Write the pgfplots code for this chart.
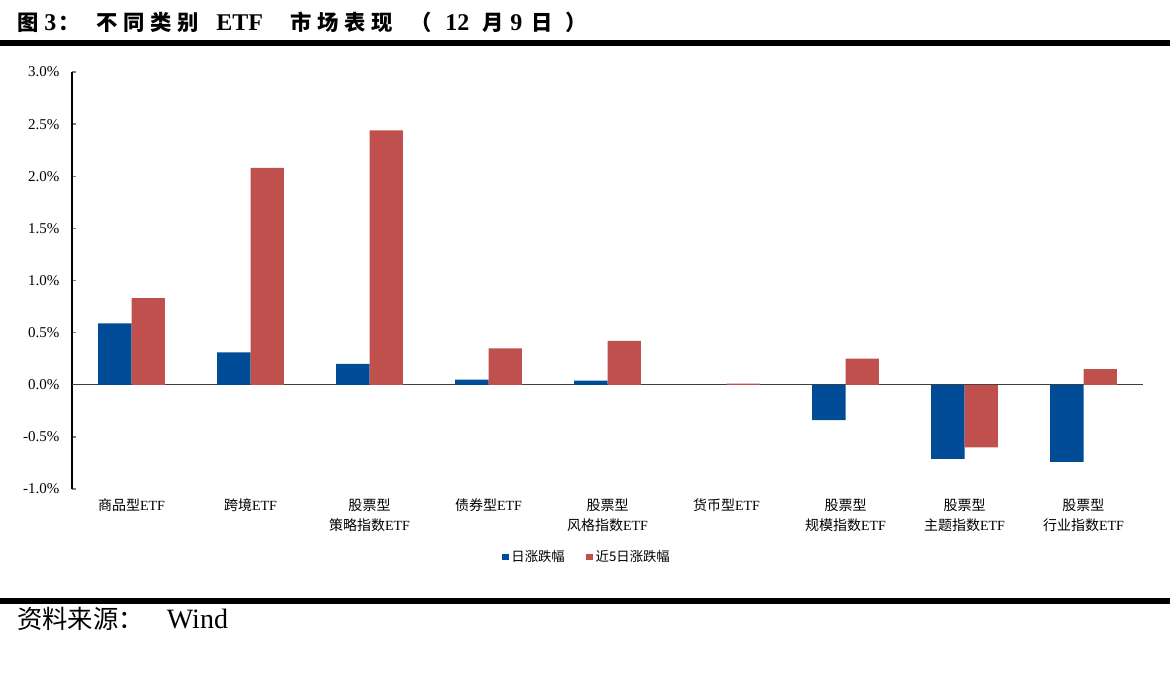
\documentclass[border=0pt]{standalone}
\usepackage{fontspec}
\usepackage{pgfplots}
\pgfplotsset{compat=1.18}
\setmainfont{Liberation Serif}
\newfontfamily\cjk{Noto Sans CJK SC}
\newcommand\zh[1]{{\cjk\fontsize{16}{18}\selectfont #1}}
\definecolor{dayblue}{RGB}{0,76,151}
\definecolor{weekred}{RGB}{192,80,77}

\begin{document}
\begin{tikzpicture}
% 1 px of the reference = 0.75pt
\useasboundingbox (0,0) rectangle (877.5pt,-511.5pt);

% title, set piece by piece to follow the wide spacing of the original
\foreach \x/\t in {17/\zh{图}, 44/3, 58/\zh{：}, 96/\zh{不}, 123/\zh{同},
    150/\zh{类}, 177/\zh{别}, 216/ETF, 290/\zh{市}, 317/\zh{场}, 344/\zh{表},
    371/\zh{现}, 410/\zh{（}, 445/12, 482/\zh{月}, 510/9, 531/\zh{日}, 565/\zh{）}}
  \node[anchor=base west, inner sep=0, font=\fontsize{18}{20}\selectfont\bfseries]
    at (\x*0.75pt,-22.5pt) {\t};
\fill (0,-30pt) rectangle (877.5pt,-34.5pt);

\begin{axis}[
  at={(54pt,-366.75pt)}, anchor=south west,
  scale only axis, width=803.25pt, height=312.75pt,
  ybar=0pt, bar width=25pt,
  xmin=-0.5, xmax=8.5, ymin=-1, ymax=3,
  xtick={0,...,8},
  xticklabels={
    {\cjk 商品型}ETF, {\cjk 跨境}ETF, {{\cjk 股票型}\\{\cjk 策略指数}ETF},
    {\cjk 债券型}ETF, {{\cjk 股票型}\\{\cjk 风格指数}ETF}, {\cjk 货币型}ETF,
    {{\cjk 股票型}\\{\cjk 规模指数}ETF}, {{\cjk 股票型}\\{\cjk 主题指数}ETF},
    {{\cjk 股票型}\\{\cjk 行业指数}ETF}},
  xticklabel style={align=center, font=\fontsize{10.5}{15}\selectfont,
    text depth=0pt, yshift=-4pt},
  x axis line style={draw=none}, xtick style={draw=none},
  axis y line*=left, axis x line*=bottom,
  ytick={-1,-0.5,...,3},
  y axis line style={line width=1.1pt, -},
  ytick style={line width=1pt}, tick align=inside, major tick length=3pt,
  yticklabel={\pgfmathprintnumber[fixed,fixed zerofill,precision=1]{\tick}\%},
  /pgf/number format/assume math mode=true,
  yticklabel style={font=\fontsize{11.25}{12}\selectfont, xshift=-6pt},
  extra y ticks={0}, extra y tick labels={},
  extra y tick style={grid=major, major grid style={black!75, line width=1.1pt},
    tick style={draw=none}},
  legend style={at={(0.481,-0.163)}, anchor=center, draw=none,
    legend columns=2, font=\cjk\fontsize{10}{12}\selectfont,
    /tikz/every even column/.append style={column sep=14pt}},
  legend image code/.code={\fill[#1] (0pt,-2.6pt) rectangle (5.2pt,2.6pt);},
]
\addplot[fill=dayblue, draw=none] coordinates {
  (0,0.59) (1,0.31) (2,0.20) (3,0.05) (4,0.04) (5,0.00) (6,-0.34) (7,-0.71) (8,-0.74)};
\addplot[fill=weekred, draw=none] coordinates {
  (0,0.83) (1,2.08) (2,2.44) (3,0.35) (4,0.42) (5,0.01) (6,0.25) (7,-0.60) (8,0.15)};
\legend{日涨跌幅, 近5日涨跌幅}
\end{axis}

\fill (0,-448.5pt) rectangle (877.5pt,-453pt);
\node[anchor=base west, inner sep=0, font=\cjk\fontsize{19}{22}\selectfont]
  at (12.75pt,-471pt) {资料来源：};
\node[anchor=base west, inner sep=0, font=\fontsize{21}{24}\selectfont]
  at (125pt,-471pt) {Wind};
\end{tikzpicture}
\end{document}
